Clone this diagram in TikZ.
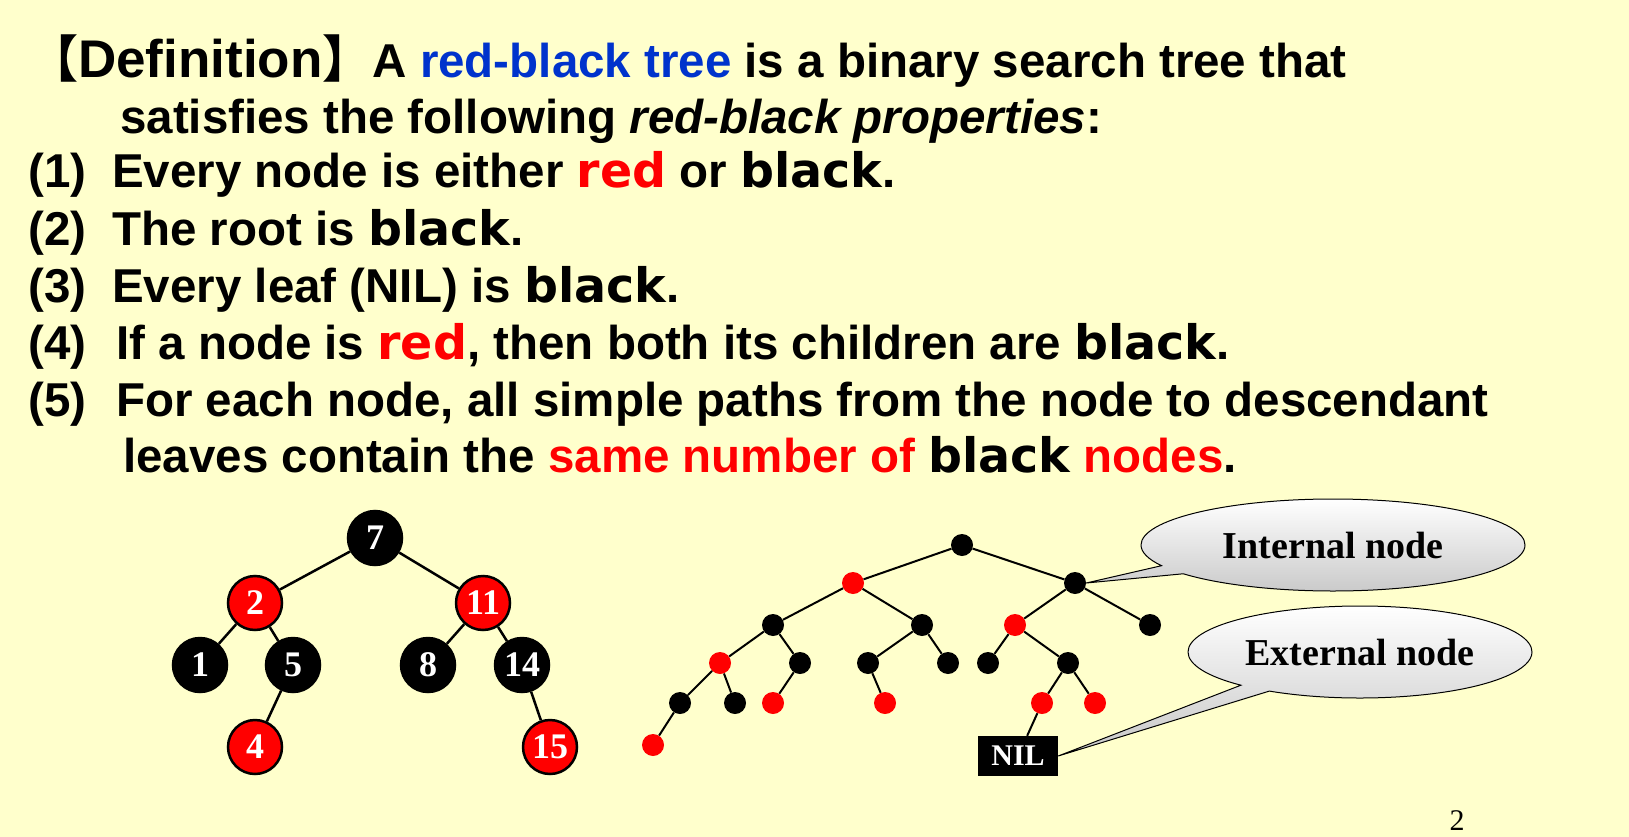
\documentclass[tikz,border=0pt]{standalone}
\usepackage{fontspec}
\setmainfont{Liberation Sans}
\newfontfamily\blk{DejaVu Sans Bold}
\newfontfamily\cjk{Noto Sans CJK SC}
\newfontfamily\tms{Liberation Serif}
\usetikzlibrary{shapes.callouts}
\definecolor{bg}{RGB}{255,255,204}
\definecolor{rbred}{RGB}{255,0,0}
\definecolor{rbblue}{RGB}{0,51,204}
\newcommand{\BL}{{\blk black}}
\begin{document}
\begin{tikzpicture}[x=1pt,y=-1pt,
  txt/.style={anchor=base west,inner sep=0pt,font=\fontsize{47.5}{52}\selectfont\bfseries},
  big/.style={circle,draw=black,line width=2.5pt,minimum size=54pt,inner sep=0pt,text=white,font=\fontsize{36}{36}\selectfont\tms\bfseries},
  bn/.style={big,fill=black},
  rn/.style={big,fill=rbred},
  sb/.style={circle,fill=black,minimum size=22pt,inner sep=0pt},
  sr/.style={circle,fill=rbred,minimum size=22pt,inner sep=0pt},
  edge/.style={line width=2.5pt},
  call/.style={ellipse callout,draw=black,line width=1pt,top color=white,bottom color=black!22,font=\fontsize{38}{38}\selectfont\tms\bfseries,inner sep=2pt,callout pointer arc=12}]
\fill[bg] (0,0) rectangle (1629,837);
\useasboundingbox (0,0) rectangle (1629,837);
\node[txt] (t0) at (28,78) {{\cjk\fontsize{50}{50}\selectfont 【}\fontsize{53}{53}\selectfont Definition{\cjk\fontsize{50}{50}\selectfont 】}\fontsize{47.5}{52}\selectfont A {\color{rbblue}red-black tree} is a binary search tree that};
\node[txt] (t1) at (120,134) {satisfies the following \textit{red-black properties}:};
\node[txt] (t2) at (28,188) {(1)\hspace{26pt}Every node is either {\color{rbred}\blk red} or \BL.};
\node[txt] (t3) at (28,245) {(2)\hspace{26pt}The root is \BL.};
\node[txt] (t4) at (28,302) {(3)\hspace{26pt}Every leaf (NIL) is \BL.};
\node[txt] (t5) at (28,359) {(4)\hspace{30pt}If a node is {\color{rbred}\blk red}, then both its children are \BL.};
\node[txt] (t6) at (28,416) {(5)\hspace{30pt}For each node, all simple paths from the node to descendant};
\node[txt] (t7) at (123,472) {leaves contain the {\color{rbred}same number of} \BL{} {\color{rbred}nodes}.};
% left tree
\node[bn] (a7) at (375,538) {7};
\node[rn] (a2) at (255,603) {2};
\node[rn] (a11) at (483,603) {11};
\node[bn] (a1) at (200,665) {1};
\node[bn] (a5) at (293,665) {5};
\node[bn] (a8) at (428,665) {8};
\node[bn] (a14) at (522,665) {14};
\node[rn] (a4) at (255,747) {4};
\node[rn] (a15) at (550,747) {15};
\foreach \p/\c in {a7/a2,a7/a11,a2/a1,a2/a5,a11/a8,a11/a14,a5/a4,a14/a15}
  \draw[edge] (\p) -- (\c);
% right tree
\node[sb] (r) at (962,545) {};
\node[sr] (l) at (853,583) {};
\node[sb] (rr) at (1075,583) {};
\node[sb] (rrr) at (1150,625) {};
\node[sb] (ll) at (773,625) {};
\node[sb] (lr) at (922,625) {};
\node[sr] (rl) at (1015,625) {};
\node[sr] (lll) at (720,663) {};
\node[sb] (llr) at (800,663) {};
\node[sb] (lrl) at (868,663) {};
\node[sb] (lrr) at (948,663) {};
\node[sb] (rll) at (988,663) {};
\node[sb] (rlr) at (1068,663) {};
\node[sb] (a) at (680,703) {};
\node[sb] (b) at (735,703) {};
\node[sr] (c) at (773,703) {};
\node[sr] (d) at (885,703) {};
\node[sr] (e) at (1042,703) {};
\node[sr] (f) at (1095,703) {};
\node[sr] (g) at (653,745) {};
\node[fill=black,text=white,font=\fontsize{30}{30}\selectfont\tms\bfseries,inner sep=0pt,minimum width=80pt,minimum height=40pt] (nil) at (1018,756) {NIL};
\foreach \p/\c in {r/l,r/rr,rr/rrr,rr/rl,l/ll,l/lr,ll/lll,ll/llr,lr/lrl,lr/lrr,rl/rll,rl/rlr,lll/a,lll/b,llr/c,lrl/d,rlr/e,rlr/f,a/g,e/nil}
  \draw[line width=2pt] (\p) -- (\c);
\node[call,minimum width=384pt,minimum height=92pt,callout absolute pointer={(rr.east)}] (ci) at (1333,545) {Internal node};
\node[call,minimum width=344pt,minimum height=92pt,callout absolute pointer={(nil.east)}] (ce) at (1360,652) {External node};
\node[font=\fontsize{30}{30}\selectfont\tms,anchor=base] (pg) at (1457,830) {2};
\end{tikzpicture}
\end{document}
